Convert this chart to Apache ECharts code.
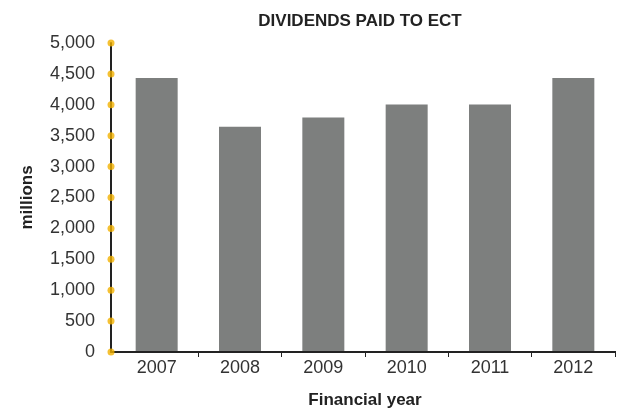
<!DOCTYPE html>
<html>
<head>
<meta charset="utf-8">
<script src="https://cdn.jsdelivr.net/npm/echarts@6/dist/echarts.min.js"></script>
<style>
  html, body { margin: 0; padding: 0; background: #fff; }
  #chart { width: 620px; height: 414px; }
</style>
</head>
<body>
<div id="chart"></div>
<script>
// Dividends paid to ECT, in millions, by financial year
const years = ['2007', '2008', '2009', '2010', '2011', '2012'];
const dividends = [4430, 3640, 3790, 4000, 4000, 4430];
const yTicks = [0, 500, 1000, 1500, 2000, 2500, 3000, 3500, 4000, 4500, 5000];

const font = 'Liberation Sans, Arial, sans-serif';
const chart = echarts.init(document.getElementById('chart'), null, { renderer: 'canvas' });

chart.setOption({
  animation: false,
  title: {
    text: 'DIVIDENDS PAID TO ECT',
    left: 355, top: 8, textAlign: 'center',
    textStyle: { fontFamily: font, fontSize: 17, fontWeight: 'bold', color: '#222' }
  },
  // grid 0 holds the bars, grid 1 the frame (axis lines, value labels, tick dots)
  grid: [
    { left: 115, right: 5, top: 43, bottom: 62 },
    { left: 111, right: 5, top: 43, bottom: 62 }
  ],
  xAxis: [{
    gridIndex: 0,
    type: 'category',
    data: years,
    name: 'Financial year',
    nameLocation: 'middle',
    nameGap: 41,
    nameTextStyle: { fontFamily: font, fontSize: 17, fontWeight: 'bold', color: '#222' },
    axisLine: { show: false },
    axisTick: {
      show: true, length: 6,
      interval: (i) => i !== 0,
      lineStyle: { color: '#222', width: 1 }
    },
    axisLabel: { fontFamily: font, fontSize: 18, color: '#333', margin: 8 }
  }, {
    gridIndex: 1,
    type: 'value', min: 0, max: 1,
    axisLine: { show: true, lineStyle: { color: '#222', width: 2 } },
    axisTick: { show: false },
    axisLabel: { show: false },
    splitLine: { show: false }
  }],
  yAxis: [{
    gridIndex: 0,
    type: 'value', min: 0, max: 5000, interval: 500,
    show: false
  }, {
    gridIndex: 1,
    type: 'value',
    min: 0, max: 5000, interval: 500,
    name: 'millions',
    nameLocation: 'middle',
    nameGap: 75,
    nameRotate: 90,
    nameTextStyle: { fontFamily: font, fontSize: 17, fontWeight: 'bold', color: '#222' },
    axisLine: { show: true, lineStyle: { color: '#222', width: 2 } },
    axisTick: { show: false },
    splitLine: { show: false },
    axisLabel: {
      fontFamily: font, fontSize: 18, color: '#333', margin: 16,
      padding: [7, 0, 0, 0],
      formatter: v => v.toLocaleString('en-US')
    }
  }],
  series: [{
    type: 'bar',
    xAxisIndex: 0, yAxisIndex: 0,
    data: dividends,
    barWidth: 42,
    itemStyle: { color: '#7d7f7e' }
  }, {
    type: 'scatter',
    xAxisIndex: 1, yAxisIndex: 1,
    data: yTicks.map(v => [0, v]),
    symbol: 'circle',
    symbolSize: 7,
    itemStyle: { color: '#f2b100' },
    z: 5
  }]
});
</script>
</body>
</html>
